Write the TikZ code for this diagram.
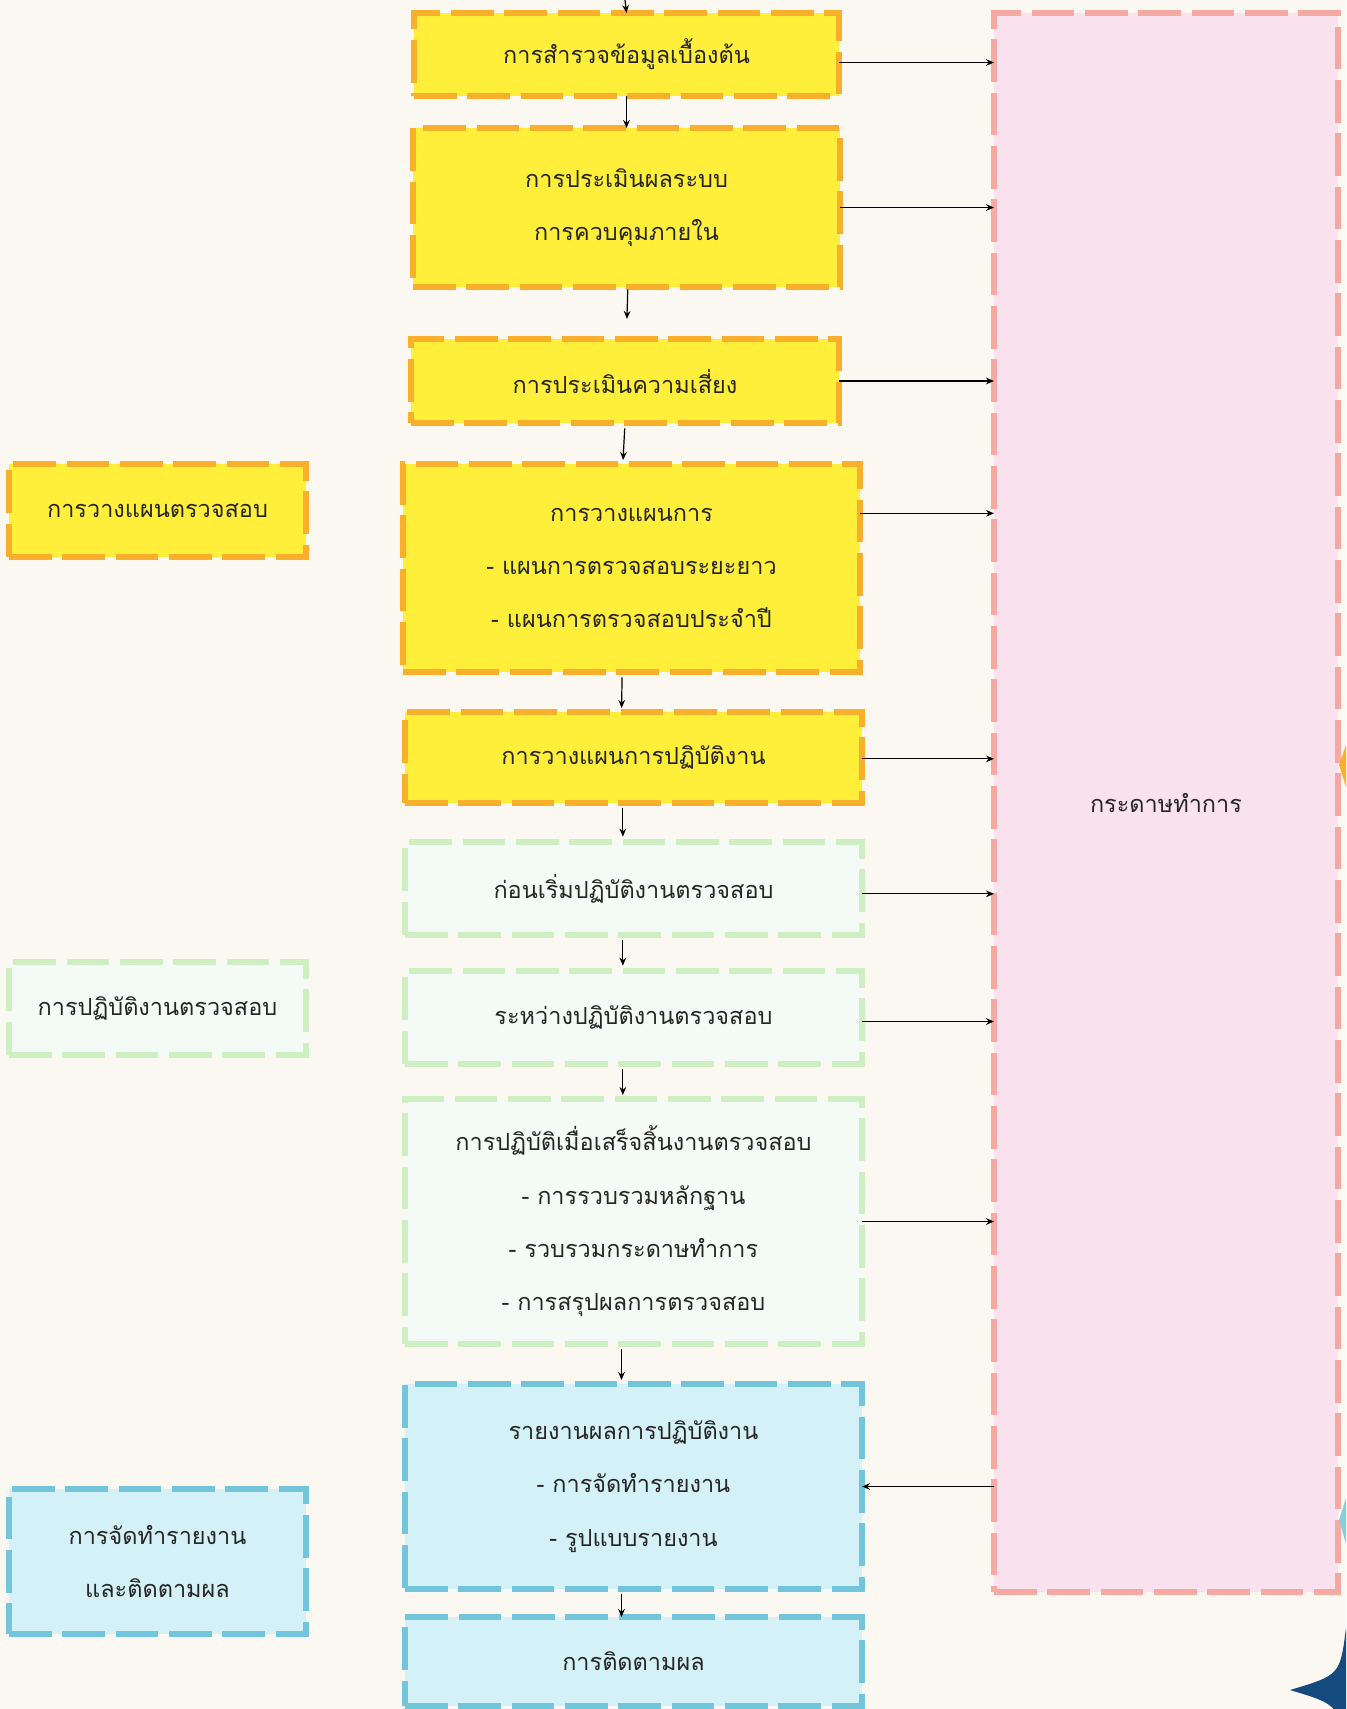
\documentclass[tikz,border=0pt]{standalone}
\usepackage{fontspec}
\newfontfamily\thaifont[Script=Thai]{Loma}
\usetikzlibrary{arrows.meta,calc}
\definecolor{bg}{HTML}{FBF8F1}
\definecolor{txt}{HTML}{262626}
\definecolor{yfill}{HTML}{FFEE3A}
\definecolor{ybord}{HTML}{F8B02C}
\definecolor{gfill}{HTML}{F4FBF6}
\definecolor{gbord}{HTML}{CDEFC2}
\definecolor{bfill}{HTML}{D3F1F7}
\definecolor{bbord}{HTML}{72C6DB}
\definecolor{pfill}{HTML}{F9E1EE}
\definecolor{pbord}{HTML}{F4A9A3}
\definecolor{navy}{HTML}{144A7E}
\begin{document}
\begin{tikzpicture}[x=0.75pt,y=-0.75pt,
  every node/.style={font=\thaifont\fontsize{17.6}{40}\selectfont, text=txt, align=center, inner sep=0pt, outer sep=0pt},
  basebox/.style={rectangle, line width=5pt, dash pattern=on 32pt off 8pt},
  ybox/.style={basebox, draw=ybord, fill=yfill},
  gbox/.style={basebox, draw=gbord, fill=gfill},
  bbox/.style={basebox, draw=bbord, fill=bfill},
  pbox/.style={basebox, draw=pbord, fill=pfill},
  arr/.style={line width=0.9pt, draw=black, -{Stealth[length=6pt,width=5pt]}},
]
\useasboundingbox (0,0) rectangle (1346,1709);
\clip (0,0) rectangle (1346,1709);
\fill[bg] (0,0) rectangle (1346,1709);

% right column
\node[pbox, minimum width=258pt, minimum height=1184.25pt] (big) at (1166,802.5) {กระดาษทำการ};

% main column
\node[ybox, minimum width=318.75pt, minimum height=62.25pt] (b1) at (626.5,54.5) {การสำรวจข้อมูลเบื้องต้น};
\node[ybox, minimum width=320.25pt, minimum height=119.25pt] (b2) at (626.5,207.5) {การประเมินผลระบบ\\การควบคุมภายใน};
\node[ybox, minimum width=321pt, minimum height=63pt] (b3) at (625,381) {การประเมินความเสี่ยง};
\node[ybox, minimum width=342.75pt, minimum height=156pt] (b4) at (631.5,568) {การวางแผนการ\\- แผนการตรวจสอบระยะยาว\\- แผนการตรวจสอบประจำปี};
\node[ybox, minimum width=342.75pt, minimum height=68.25pt] (b5) at (633.5,757.5) {การวางแผนการปฏิบัติงาน};
\node[gbox, minimum width=342.75pt, minimum height=69.75pt] (b6) at (633.5,888.5) {ก่อนเริ่มปฏิบัติงานตรวจสอบ};
\node[gbox, minimum width=342.75pt, minimum height=69.75pt] (b7) at (633.5,1017.5) {ระหว่างปฏิบัติงานตรวจสอบ};
\node[gbox, minimum width=342.75pt, minimum height=183.75pt] (b8) at (633.5,1221.5) {การปฏิบัติเมื่อเสร็จสิ้นงานตรวจสอบ\\- การรวบรวมหลักฐาน\\- รวบรวมกระดาษทำการ\\- การสรุปผลการตรวจสอบ};
\node[bbox, minimum width=342.75pt, minimum height=153.75pt] (b9) at (633.5,1486.5) {รายงานผลการปฏิบัติงาน\\- การจัดทำรายงาน\\- รูปแบบรายงาน};
\node[bbox, minimum width=342.75pt, minimum height=66.75pt] (b10) at (633.5,1661.5) {การติดตามผล};

% left column
\node[ybox, minimum width=222.75pt, minimum height=69.75pt] (l1) at (157.5,510.5) {การวางแผนตรวจสอบ};
\node[gbox, minimum width=222.75pt, minimum height=69.75pt] (l2) at (157.5,1008.5) {การปฏิบัติงานตรวจสอบ};
\node[bbox, minimum width=222.75pt, minimum height=108.75pt] (l3) at (157.5,1561.5) {การจัดทำรายงาน\\และติดตามผล};

% vertical arrows
\coordinate (top) at (625,0);
\draw[arr] (top) -- (b1.north);
\draw[arr] (b1.south) -- (b2.north);
\draw[arr, shorten <=2pt, shorten >=15pt] ([xshift=1pt]b2.south) -- ([xshift=1pt]b3.north);
\draw[arr, shorten <=4pt, shorten >=3pt] (b3.south) -- ([xshift=-6.5pt]b4.north);
\draw[arr, shorten <=4pt, shorten >=3pt] ([xshift=-7pt]b4.south) -- ([xshift=-9pt]b5.north);
\draw[arr, shorten <=4pt, shorten >=4pt] ([xshift=-8pt]b5.south) -- ([xshift=-8pt]b6.north);
\draw[arr, shorten <=4pt, shorten >=4pt] ([xshift=-8pt]b6.south) -- ([xshift=-8pt]b7.north);
\draw[arr, shorten <=4pt, shorten >=3pt] ([xshift=-8pt]b7.south) -- ([xshift=-8pt]b8.north);
\draw[arr, shorten <=4pt, shorten >=3pt] ([xshift=-9pt]b8.south) -- ([xshift=-9pt]b9.north);
\draw[arr, shorten <=4pt, shorten >=0pt] ([xshift=-9pt]b9.south) -- ([xshift=-9pt]b10.north);

% horizontal arrows
\coordinate (a1) at ([yshift=-6pt]b1.east);
\coordinate (a4) at ([yshift=41pt]b4.east);
\coordinate (a5) at ([yshift=-1pt]b5.east);
\coordinate (a6) at ([yshift=-4pt]b6.east);
\coordinate (a7) at ([yshift=-3pt]b7.east);
\draw[arr] (a1) -- (big.west |- a1);
\draw[arr] (b2.east) -- (big.west |- b2.east);
\draw[arr] (b3.east) -- (big.west |- b3.east);
\draw[arr] (a4) -- (big.west |- a4);
\draw[arr] (a5) -- (big.west |- a5);
\draw[arr] (a6) -- (big.west |- a6);
\draw[arr] (a7) -- (big.west |- a7);
\draw[arr] (b8.east) -- (big.west |- b8.east);
\draw[arr] (big.west |- b9.east) -- (b9.east);

% edge decorations
\fill[ybord] (1346,745) -- (1339,765) -- (1346,787) -- cycle;
\fill[bbord!85!white] (1346,1498) -- (1339,1520) -- (1346,1544) -- cycle;
\fill[navy] (1346,1628) .. controls (1340,1675) .. (1290,1690)
  .. controls (1340,1705) .. (1346,1760)
  .. controls (1352,1705) .. (1408,1690)
  .. controls (1352,1675) .. (1346,1628) -- cycle;
\end{tikzpicture}
\end{document}
